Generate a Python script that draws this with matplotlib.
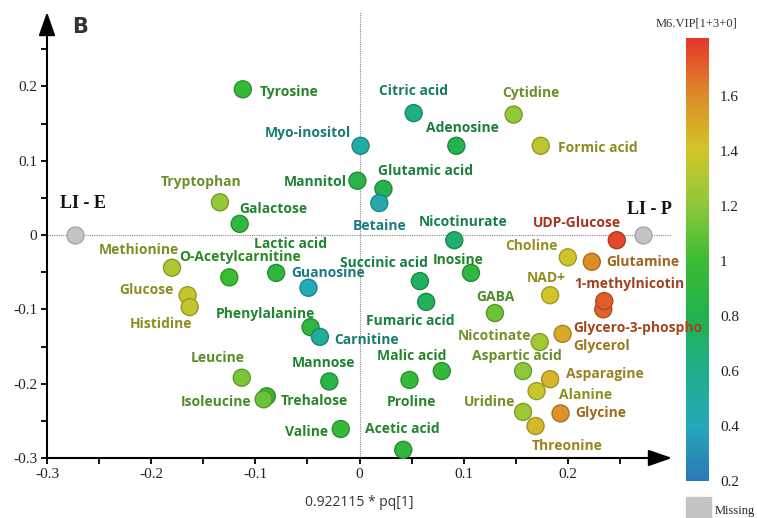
import matplotlib
matplotlib.use("Agg")
import matplotlib.pyplot as plt
import numpy as np
from matplotlib.colors import LinearSegmentedColormap, Normalize
from matplotlib.ticker import FixedLocator, FuncFormatter

# ---------------- data ----------------
names = ["Tyrosine", "Myo-inositol", "Citric acid", "Cytidine", "Adenosine", "Formic acid",
         "Mannitol", "Glutamic acid", "Betaine", "Tryptophan", "Galactose", "Nicotinurate",
         "UDP-Glucose", "Choline", "Glutamine", "Inosine", "Succinic acid", "NAD+",
         "Glycero-3-phospho", "1-methylnicotin", "GABA", "Fumaric acid", "Nicotinate",
         "Glycerol", "Aspartic acid", "Asparagine", "Alanine", "Glycine", "Uridine",
         "Threonine", "Malic acid", "Proline", "Acetic acid", "Methionine",
         "O-Acetylcarnitine", "Lactic acid", "Guanosine", "Glucose", "Histidine",
         "Phenylalanine", "Carnitine", "Leucine", "Trehalose", "Isoleucine", "Mannose",
         "Valine"]
pq1 = [-0.112, 0.001, 0.052, 0.148, 0.093, 0.174,
       -0.002, 0.023, 0.019, -0.134, -0.115, 0.091,
       0.247, 0.200, 0.223, 0.107, 0.058, 0.183,
       0.234, 0.235, 0.130, 0.064, 0.173,
       0.195, 0.157, 0.183, 0.170, 0.193, 0.157,
       0.169, 0.079, 0.048, 0.042, -0.180,
       -0.125, -0.080, -0.049, -0.165, -0.163,
       -0.047, -0.038, -0.113, -0.089, -0.092, -0.029,
       -0.018]
pq2 = [0.196, 0.120, 0.164, 0.162, 0.120, 0.120,
       0.073, 0.062, 0.043, 0.044, 0.015, -0.007,
       -0.007, -0.030, -0.036, -0.051, -0.062, -0.081,
       -0.100, -0.089, -0.105, -0.090, -0.144,
       -0.133, -0.183, -0.194, -0.210, -0.240, -0.238,
       -0.257, -0.183, -0.195, -0.289, -0.044,
       -0.057, -0.051, -0.071, -0.081, -0.097,
       -0.124, -0.137, -0.192, -0.217, -0.221, -0.197,
       -0.261]
vip = [0.95, 0.50, 0.62, 1.22, 0.80, 1.35,
       0.85, 0.82, 0.45, 1.22, 0.90, 0.70,
       1.76, 1.40, 1.60, 0.90, 0.75, 1.40,
       1.70, 1.72, 1.12, 0.76, 1.27,
       1.50, 1.20, 1.46, 1.38, 1.58, 1.26,
       1.45, 0.95, 0.95, 0.90, 1.30,
       1.00, 0.90, 0.40, 1.36, 1.36,
       0.90, 0.55, 1.16, 0.95, 1.12, 0.85,
       0.95]

group_names = ["LI - E", "LI - P"]
group_x = [-0.273, 0.2725]
group_y = [0.0, 0.0]

x_ticks = [-0.3, -0.2, -0.1, 0.0, 0.1, 0.2]
y_ticks = [-0.3, -0.2, -0.1, 0.0, 0.1, 0.2]
cbar_ticks = [0.2, 0.4, 0.6, 0.8, 1.0, 1.2, 1.4, 1.6]

# label offsets (pixels, text centre relative to marker)
lab_dx = [46, -53, 0, 17, 6, 57,
          -42, 42, 0, -19, 34, 9,
          -40, -36, 51, -13, -36, -4,
          35, 25, 1, -16, -45,
          39, -6, 55, 49, 40, -33,
          32, -30, 2, -1, -33,
          11, 14, 20, -41, -29,
          -45, 47, -24, 48, -48, -6,
          -34]
lab_dy = [-3, 13, 22, 22, 18, -2,
          -1, 18, -23, 20, 15, 18,
          17, 11, 0, 13, 18, 17,
          -19, 17, 16, -19, 6,
          -12, 15, 5, -4, 0, 10,
          -20, 15, -22, 21, 18,
          20, 29, 15, 5, -17,
          13, -3, 20, -5, -3, 18,
          -3]

# ---------------- style ----------------
W, H = 757, 518
fig = plt.figure(figsize=(W / 100, H / 100), dpi=100)

def fx(px):
    return px / W

def fy(py):
    return 1 - py / H

cmap = LinearSegmentedColormap.from_list(
    "vip",
    [(0.0, "#2b78b8"), (0.125, "#25a9b8"), (0.25, "#1fae8a"), (0.375, "#22b24e"),
     (0.5, "#3cbc32"), (0.625, "#8ec83a"), (0.75, "#d2c52a"), (0.875, "#dc8a28"),
     (1.0, "#e6362a")])
norm = Normalize(vmin=0.2, vmax=1.81)

# colorbar (drawn beneath the main axes)
cax = fig.add_axes([fx(686), fy(481), fx(709) - fx(686), fy(38) - fy(481)])
sm = matplotlib.cm.ScalarMappable(norm=norm, cmap=cmap)
cb = fig.colorbar(sm, cax=cax)
cb.outline.set_visible(False)
cb.set_ticks(cbar_ticks)
cb.set_ticklabels(["%g" % t for t in cbar_ticks])
cax.tick_params(length=0, labelsize=11, pad=8)
for lab in cax.get_yticklabels():
    lab.set_family("Liberation Serif")
    lab.set_color("#222222")
cax.set_zorder(1)

ax = fig.add_axes([fx(47), fy(458), fx(672) - fx(47), fy(12) - fy(458)])
ax.set_zorder(2)
ax.patch.set_alpha(0)
ax.set_xlim(-0.3, 0.3)
ax.set_ylim(-0.3, 0.3)
for s in ["top", "right", "left", "bottom"]:
    ax.spines[s].set_visible(False)

# axis arrows
arrow_kw = dict(arrowstyle="-|>,head_length=0.8,head_width=0.28", color="black",
                lw=1.5, shrinkA=0, shrinkB=0, mutation_scale=18)
ax.annotate("", xy=(0, 1), xytext=(0, 0), xycoords="axes fraction",
            textcoords="axes fraction", arrowprops=arrow_kw, annotation_clip=False)
ax.annotate("", xy=(1, 0), xytext=(0, 0), xycoords="axes fraction",
            textcoords="axes fraction", arrowprops=arrow_kw, annotation_clip=False)

# dotted zero lines
ax.axvline(0, color="#888888", lw=0.8, ls=(0, (1, 1)), zorder=1)
ax.axhline(0, color="#888888", lw=0.8, ls=(0, (1, 1)), zorder=1)

ax.xaxis.set_major_locator(FixedLocator(x_ticks))
ax.yaxis.set_major_locator(FixedLocator(y_ticks))
ax.xaxis.set_minor_locator(FixedLocator([-0.25, -0.15, -0.05, 0.05, 0.15, 0.25]))
ax.yaxis.set_minor_locator(FixedLocator([-0.25, -0.15, -0.05, 0.05, 0.15, 0.25]))
fmt = FuncFormatter(lambda v, p: "0" if abs(v) < 1e-9 else ("%g" % v))
ax.xaxis.set_major_formatter(fmt)
ax.yaxis.set_major_formatter(fmt)
ax.tick_params(which="both", direction="out", length=4, width=1.3, color="black",
               labelsize=11, pad=3)
for lab in ax.get_xticklabels() + ax.get_yticklabels():
    lab.set_family("Liberation Serif")
    lab.set_color("#222222")

ax.set_xlabel("0.922115 * pq[1]", fontsize=10, family="Open Sans", color="#333333",
              labelpad=10)

# group points
ax.scatter(group_x, group_y, s=150, c="#c4c4c4", edgecolors="#a8a8a8", linewidths=1,
           zorder=3, clip_on=False)
for gx, gy, gn, dx, dy in zip(group_x, group_y, group_names, [8, 6], [31, 25]):
    ax.annotate(gn, (gx, gy), xytext=(dx, dy), textcoords="offset pixels",
                ha="center", va="center", fontsize=13, fontweight="bold",
                family="Liberation Serif", color="#111111", zorder=5)

# metabolite points
colors = cmap(norm(np.array(vip)))
edge = colors.copy()
edge[:, :3] *= 0.78
ax.scatter(pq1, pq2, s=150, c=colors, edgecolors=edge, linewidths=1, zorder=4,
           clip_on=False)

for n, xv, yv, v, dx, dy in zip(names, pq1, pq2, vip, lab_dx, lab_dy):
    col = np.array(cmap(norm(v)))
    col[:3] *= 0.72
    ax.annotate(n, (xv, yv), xytext=(dx, dy), textcoords="offset pixels",
                ha="center", va="center", fontsize=10, fontweight="bold",
                family="Open Sans", color=col, zorder=6, annotation_clip=False)

fig.text(fx(80), fy(27), "B", fontsize=15, fontweight="bold", family="DejaVu Sans",
         color="#333333", ha="center", va="center")

fig.text(fx(697), fy(23), "M6.VIP[1+3+0]", fontsize=9, family="Liberation Serif",
         color="#333333", ha="center", va="center")

# missing swatch
fig.patches.append(plt.Rectangle((fx(686), fy(518)), fx(711) - fx(686), fy(497) - fy(518),
                                 transform=fig.transFigure, color="#c4c4c4"))
fig.text(fx(715), fy(511), "Missing", fontsize=9, family="Liberation Serif",
         color="#222222", ha="left", va="center")

fig.savefig("out.png", dpi=100)
